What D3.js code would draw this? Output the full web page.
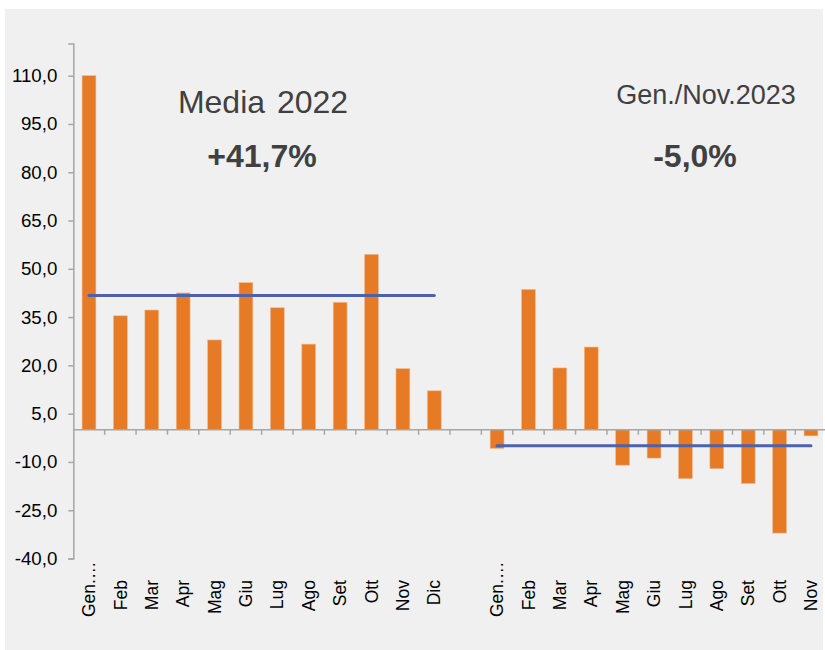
<!DOCTYPE html>
<html>
<head>
<meta charset="utf-8">
<script src="https://cdn.jsdelivr.net/npm/d3@7"></script>
<style>
  html, body { margin: 0; padding: 0; background: #ffffff; }
  svg { display: block; font-family: "Liberation Sans", Arial, sans-serif; }
</style>
</head>
<body>
<svg id="chart" width="825" height="650"></svg>
<script>
// ---- Data ----
const months2022 = ["Gen.…", "Feb", "Mar", "Apr", "Mag", "Giu", "Lug", "Ago", "Set", "Ott", "Nov", "Dic"];
const values2022 = [110.0, 35.4, 37.2, 42.5, 27.9, 45.7, 37.9, 26.6, 39.6, 54.5, 19.0, 12.1];
const months2023 = ["Gen.…", "Feb", "Mar", "Apr", "Mag", "Giu", "Lug", "Ago", "Set", "Ott", "Nov"];
const values2023 = [-5.8, 43.6, 19.2, 25.7, -11.0, -8.8, -15.2, -12.1, -16.7, -32.1, -1.9];
const mean2022 = 41.7;
const mean2023 = -5.0;
const yTicks = [-40, -25, -10, 5, 20, 35, 50, 65, 80, 95, 110];
const yDomain = [-40, 120];
const title2022 = "Media 2022";
const value2022Label = "+41,7%";
const title2023 = "Gen./Nov.2023";
const value2023Label = "-5,0%";

// ---- Build category table ----
const rows = [];
months2022.forEach((m, i) => rows.push({ key: "2022-" + i, label: m, value: values2022[i], group: 2022 }));
rows.push({ key: "gap", label: "", value: null, group: null });
months2023.forEach((m, i) => rows.push({ key: "2023-" + i, label: m, value: values2023[i], group: 2023 }));

const svg = d3.select("#chart");
const W = 825, H = 650;

// background panel
svg.append("rect").attr("x", 0).attr("y", 0).attr("width", W).attr("height", H).attr("fill", "#ffffff");
svg.append("rect").attr("x", 5).attr("y", 9).attr("width", 818).attr("height", H - 9).attr("fill", "#f0f0f0");

const x0 = 73.3, step = 31.39;
const x = d3.scaleBand().domain(rows.map(r => r.key)).range([x0, x0 + step * rows.length]).padding(0);
const y = d3.scaleLinear().domain(yDomain).range([558.5, 43.5]);

const orange = "#e67a25";
const blue = "#4a63ab";
const axisColor = "#a6a6a6";
const textColor = "#404040";

const locale = d3.formatLocale({ decimal: ",", thousands: ".", grouping: [3], currency: ["", "€"], minus: "-" });
const fmt = locale.format(".1f");

// bars
const barW = x.bandwidth() * 0.44;
svg.append("g").selectAll("rect")
  .data(rows.filter(r => r.value !== null))
  .join("rect")
  .attr("x", d => x(d.key) + (x.bandwidth() - barW) / 2)
  .attr("width", barW)
  .attr("y", d => y(Math.max(0, d.value)))
  .attr("height", d => Math.abs(y(d.value) - y(0)))
  .attr("fill", orange)
  .attr("stroke", "#f2b98c")
  .attr("stroke-width", 0.6);

// Y axis
const yAxis = d3.axisLeft(y).tickValues(yTicks).tickSize(5).tickPadding(11).tickFormat(fmt);
const gy = svg.append("g").attr("transform", `translate(${x0},0)`).call(yAxis);
gy.select(".domain").attr("stroke", axisColor).attr("stroke-width", 1.5);
gy.selectAll(".tick line").attr("stroke", axisColor).attr("stroke-width", 1.5);
gy.selectAll(".tick text").attr("fill", "#000").attr("font-size", "18.7px")
  .attr("font-family", "'Liberation Sans', Arial, sans-serif");

// X axis line at zero with ticks at category boundaries
const boundaries = rows.map(r => x(r.key)).concat([x(rows[rows.length - 1].key) + x.bandwidth()]);
svg.append("line")
  .attr("x1", x0).attr("x2", x0 + step * rows.length)
  .attr("y1", y(0)).attr("y2", y(0))
  .attr("stroke", axisColor).attr("stroke-width", 1.5);
svg.append("g").selectAll("line")
  .data(boundaries.slice(1))
  .join("line")
  .attr("x1", d => d).attr("x2", d => d)
  .attr("y1", y(0)).attr("y2", y(0) + 5)
  .attr("stroke", axisColor).attr("stroke-width", 1.5);

// X labels (rotated)
const labelTop = 580, labelBottomLimit = 617;
const lg = svg.append("g");
rows.filter(r => r.label !== "").forEach(r => {
  const cx = x(r.key) + x.bandwidth() / 2;
  const t = lg.append("text")
    .attr("text-anchor", "end")
    .attr("font-size", "17.5px")
    .attr("fill", "#000")
    .attr("dy", "0.35em")
    .text(r.label);
  const len = t.node().getComputedTextLength();
  const yEnd = Math.min(labelTop, labelBottomLimit - len);
  t.attr("transform", `translate(${cx},${yEnd}) rotate(-90)`);
});

// mean lines
function meanLine(group, val) {
  const gr = rows.filter(r => r.group === group);
  const xa = x(gr[0].key) + x.bandwidth() / 2;
  const xb = x(gr[gr.length - 1].key) + x.bandwidth() / 2;
  svg.append("line")
    .attr("x1", xa).attr("x2", xb)
    .attr("y1", y(val)).attr("y2", y(val))
    .attr("stroke", blue).attr("stroke-width", 3).attr("stroke-linecap", "round");
}
meanLine(2022, mean2022);
meanLine(2023, mean2023);

// annotations
svg.append("text").attr("x", 263).attr("y", 113).attr("text-anchor", "middle")
  .attr("font-size", "32px").attr("fill", textColor).attr("word-spacing", "3px").text(title2022);
svg.append("text").attr("x", 262).attr("y", 166.5).attr("text-anchor", "middle")
  .attr("font-size", "32px").attr("font-weight", "bold").attr("fill", textColor).text(value2022Label);
svg.append("text").attr("x", 706).attr("y", 104).attr("text-anchor", "middle")
  .attr("font-size", "27px").attr("fill", textColor).text(title2023);
svg.append("text").attr("x", 695).attr("y", 166.5).attr("text-anchor", "middle")
  .attr("font-size", "32px").attr("font-weight", "bold").attr("fill", textColor).text(value2023Label);
</script>
</body>
</html>
